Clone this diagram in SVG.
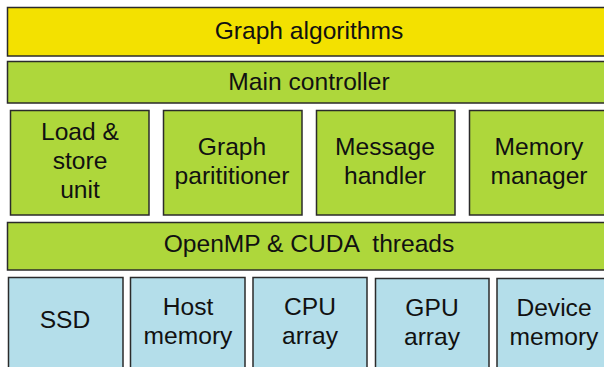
<svg xmlns="http://www.w3.org/2000/svg" width="604" height="367" viewBox="0 0 604 367">
<style>
rect{stroke:#2b2b2b;stroke-width:1.5}
.y{fill:#f3e100}
.g{fill:#aed73b}
.b{fill:#b4deea}
text{font-family:"Liberation Sans",Arial,sans-serif;font-size:24.6px;fill:#111;text-anchor:middle;white-space:pre}
</style>
<rect width="604" height="367" fill="#fff" style="stroke:none"/>
<g id="graph-algorithms"><rect class="y" x="7.5" y="7.5" width="606" height="48.5"/><text x="309" y="39">Graph algorithms</text></g>
<g id="main-controller"><rect class="g" x="7.5" y="61.5" width="606" height="41.5"/><text x="309" y="90">Main controller</text></g>
<g id="load-store"><rect class="g" x="10.5" y="110.5" width="138.5" height="104.5"/><text x="80" y="140">Load &amp;</text><text x="80" y="169">store</text><text x="80" y="198">unit</text></g>
<g id="graph-partitioner"><rect class="g" x="163.5" y="110.5" width="138.5" height="104.5"/><text x="232" y="155">Graph</text><text x="232" y="184">parititioner</text></g>
<g id="message-handler"><rect class="g" x="316.5" y="110.5" width="138.5" height="104.5"/><text x="385" y="155">Message</text><text x="385" y="184">handler</text></g>
<g id="memory-manager"><rect class="g" x="469.5" y="110.5" width="138.5" height="104.5"/><text x="539" y="155">Memory</text><text x="539" y="184">manager</text></g>
<g id="threads"><rect class="g" x="7.5" y="222.5" width="606" height="47.5"/><text x="309" y="252" xml:space="preserve">OpenMP &amp; CUDA  threads</text></g>
<g id="ssd"><rect class="b" x="8.5" y="277.5" width="114.5" height="100"/><text x="65" y="328">SSD</text></g>
<g id="host-memory"><rect class="b" x="130.5" y="277.5" width="114.5" height="100"/><text x="188" y="315">Host</text><text x="188" y="344">memory</text></g>
<g id="cpu-array"><rect class="b" x="253" y="277.5" width="114" height="100"/><text x="310" y="315">CPU</text><text x="310" y="344">array</text></g>
<g id="gpu-array"><rect class="b" x="375.5" y="278.5" width="113.5" height="100"/><text x="432" y="316">GPU</text><text x="432" y="345">array</text></g>
<g id="device-memory"><rect class="b" x="497" y="278.5" width="114" height="100"/><text x="554" y="316">Device</text><text x="554" y="345">memory</text></g>
<g id="connectors"/>
</svg>
